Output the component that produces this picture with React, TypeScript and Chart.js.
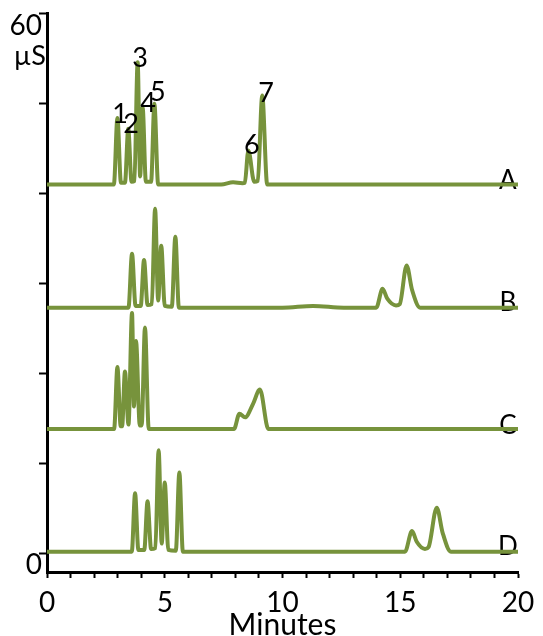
import { useEffect, useRef } from "react";
import { Chart, registerables } from "chart.js";

Chart.register(...registerables);

// ---- axis settings ----
const X_MIN = 0;
const X_MAX = 20;
const Y_MIN = -2.11;
const Y_MAX = 60;
const X_LABELED_TICKS = [0, 5, 10, 15, 20];
const Y_LABELED_TICKS = [0, 60];
const Y_UNIT = "µS";
const X_TITLE = "Minutes";

// ---- traces (minutes, µS above each trace's baseline) ----
const TRACE_NAMES = ["A", "B", "C", "D"];
const TRACE_OFFSETS = [41.0, 27.3, 13.8, 0.15];

const TRACE_A: [number, number][] = [
  [0, 0], [2.84, 0], [2.99, 7.4], [3.14, 0.2], [3.31, 0.2], [3.45, 6.2], [3.59, 0.3],
  [3.71, 0.4], [3.85, 13.6], [3.955, 0.9], [4.06, 8.6], [4.2, 0.3], [4.42, 0.3],
  [4.56, 9.0], [4.72, 0], [7.4, 0], [7.9, 0.25], [8.3, 0.15], [8.4, 0.2], [8.55, 3.8],
  [8.8, 0.3], [8.95, 0.4], [9.14, 9.9], [9.35, 0], [20, 0],
];
const TRACE_B: [number, number][] = [
  [0, 0], [3.46, 0], [3.61, 6.0], [3.76, 0.2], [3.98, 0.2], [4.12, 5.3], [4.27, 0.3],
  [4.45, 0.4], [4.59, 11.0], [4.72, 0.8], [4.85, 6.9], [5.0, 0.2], [5.3, 0.1],
  [5.45, 7.9], [5.6, 0], [10.0, 0], [11.3, 0.2], [12.6, 0], [13.98, 0], [14.25, 2.1],
  [14.45, 1.0], [14.82, 0.25], [14.98, 0.4], [15.27, 4.7], [15.5, 2.0], [15.85, 0], [20, 0],
];
const TRACE_C: [number, number][] = [
  [0, 0], [2.85, 0], [2.99, 6.9], [3.13, 0.3], [3.19, 0.3], [3.31, 6.4], [3.46, 0.5],
  [3.61, 12.9], [3.695, 2.5], [3.78, 9.8], [3.94, 0.4], [4.02, 0.4], [4.16, 11.3],
  [4.32, 0], [7.94, 0], [8.17, 1.7], [8.41, 1.3], [8.75, 2.8], [9.04, 4.4], [9.4, 0], [20, 0],
];
const TRACE_D: [number, number][] = [
  [0, 0], [3.6, 0], [3.74, 6.5], [3.88, 0.2], [4.13, 0.2], [4.27, 5.6], [4.42, 0.3],
  [4.6, 0.4], [4.74, 11.3], [4.87, 0.9], [5.0, 7.7], [5.15, 0.2], [5.47, 0.1],
  [5.62, 8.8], [5.77, 0], [15.2, 0], [15.5, 2.3], [15.7, 1.1], [16.05, 0.3], [16.2, 0.5],
  [16.55, 4.9], [16.8, 2.1], [17.15, 0], [20, 0],
];
const TRACES = [TRACE_A, TRACE_B, TRACE_C, TRACE_D];

// ---- trace name labels (minutes, µS) ----
const TRACE_LABEL_X = 19.57;
const TRACE_LABEL_Y = [41.4, 27.9, 14.2, 0.7];

// ---- peak number labels on trace A ----
const PEAK_NUMBERS = ["1", "2", "3", "4", "5", "6", "7"];
const PEAK_LABEL_X = [3.1, 3.57, 3.95, 4.29, 4.71, 8.7, 9.3];
const PEAK_LABEL_Y = [48.8, 47.7, 55.0, 50.0, 51.3, 45.4, 51.2];

const LINE_COLOR = "#77933C";
const FONT = "Lato";

const textPlugin = {
  id: "chromText",
  beforeDatasetsDraw(chart: any) {
    const { ctx, scales } = chart;
    const x = scales.x;
    const y = scales.y;
    ctx.save();
    ctx.fillStyle = "#000";
    ctx.font = `26px ${FONT}`;
    ctx.textAlign = "center";
    ctx.textBaseline = "middle";
    TRACE_NAMES.forEach((n, i) => {
      ctx.fillText(n, x.getPixelForValue(TRACE_LABEL_X), y.getPixelForValue(TRACE_LABEL_Y[i]));
    });
    ctx.restore();
  },
  afterDatasetsDraw(chart: any) {
    const { ctx, scales, chartArea } = chart;
    const x = scales.x;
    const y = scales.y;
    ctx.save();
    ctx.fillStyle = "#000";
    ctx.font = `27px ${FONT}`;
    ctx.textAlign = "center";
    ctx.textBaseline = "middle";
    PEAK_NUMBERS.forEach((n, i) => {
      ctx.fillText(n, x.getPixelForValue(PEAK_LABEL_X[i]), y.getPixelForValue(PEAK_LABEL_Y[i]));
    });
    ctx.font = `27px ${FONT}`;
    ctx.textAlign = "right";
    ctx.fillText(Y_UNIT, chartArea.left - 1, y.getPixelForValue(Y_MAX) + 42);
    ctx.restore();
  },
};

export default function App() {
  const canvasRef = useRef<HTMLCanvasElement | null>(null);

  useEffect(() => {
    if (!canvasRef.current) return;
    const chart = new Chart(canvasRef.current, {
      type: "line",
      data: {
        datasets: TRACES.map((trace, i) => ({
          label: TRACE_NAMES[i],
          data: trace.map(([t, v]) => ({ x: t, y: v + TRACE_OFFSETS[i] })),
          borderColor: LINE_COLOR,
          backgroundColor: LINE_COLOR,
          borderWidth: 4,
          pointRadius: 0,
          cubicInterpolationMode: "monotone" as const,
          fill: false,
        })),
      },
      options: {
        animation: false,
        responsive: true,
        maintainAspectRatio: false,
        layout: { padding: { top: 13, right: 25, left: 0, bottom: 0 } },
        plugins: {
          legend: { display: false },
          tooltip: { enabled: false },
        },
        scales: {
          x: {
            type: "linear",
            min: X_MIN,
            max: X_MAX,
            ticks: {
              stepSize: 1,
              autoSkip: false,
              maxRotation: 0,
              padding: 8,
              color: "#000",
              font: { family: FONT, size: 28 },
              callback: (v: any) => (X_LABELED_TICKS.includes(Number(v)) ? String(v) : ""),
            },
            grid: {
              display: true,
              drawOnChartArea: false,
              drawTicks: true,
              tickLength: 6,
              tickWidth: 2,
              tickColor: "#000",
            },
            border: { display: true, color: "#000", width: 3 },
            title: {
              display: true,
              text: X_TITLE,
              color: "#000",
              font: { family: FONT, size: 30 },
              padding: { top: 0, bottom: -7 },
            },
            afterFit: (s: any) => {
              s.height = 64;
            },
          },
          y: {
            type: "linear",
            min: Y_MIN,
            max: Y_MAX,
            ticks: {
              stepSize: 10,
              includeBounds: false,
              labelOffset: 12,
              padding: -3,
              color: "#000",
              font: { family: FONT, size: 28 },
              callback: (v: any) => (Y_LABELED_TICKS.includes(Number(v)) ? String(v) : ""),
            },
            grid: {
              display: true,
              drawOnChartArea: false,
              drawTicks: true,
              tickLength: 8,
              tickWidth: 2,
              tickColor: "#000",
            },
            border: { display: true, color: "#000", width: 3 },
            afterFit: (s: any) => {
              s.width = 47;
            },
          },
        },
      },
      plugins: [textPlugin],
    });
    return () => chart.destroy();
  }, []);

  return (
    <div style={{ position: "fixed", left: 0, top: 0, width: 543, height: 636, background: "#fff" }}>
      <canvas ref={canvasRef} />
    </div>
  );
}
